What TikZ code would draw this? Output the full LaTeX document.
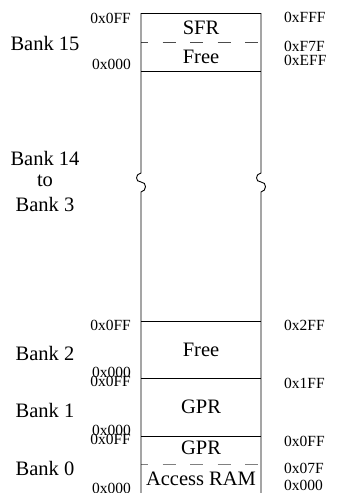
\documentclass[tikz,border=0pt]{standalone}
\usepackage{fontspec}
\setmainfont{Liberation Serif}
\begin{document}
\begin{tikzpicture}[x=1pt,y=-1pt,
  big/.style={font=\fontsize{20.5}{20.5}\selectfont, inner sep=0pt},
  hexl/.style={font=\fontsize{15.5}{15.5}\selectfont, inner sep=0pt, anchor=east},
  hexr/.style={font=\fontsize{15.5}{15.5}\selectfont, inner sep=0pt, anchor=west},
  rule/.style={line width=0.9pt},
  dashline/.style={line width=0.9pt, dash pattern=on 13pt off 14.5pt, dash phase=6pt}]
\useasboundingbox (0,0) rectangle (338,493);
% corners
\coordinate (tl) at (141,13);
\coordinate (tr) at (261,13);
\coordinate (bl) at (141,493);
\coordinate (br) at (261,493);
\coordinate (a1) at (141,71);  \coordinate (b1) at (261,71);
\coordinate (a2) at (141,321); \coordinate (b2) at (261,321);
\coordinate (a3) at (141,378); \coordinate (b3) at (261,378);
\coordinate (a4) at (141,436); \coordinate (b4) at (261,436);
\coordinate (d1) at (141,42);  \coordinate (e1) at (261,42);
\coordinate (d2) at (141,464); \coordinate (e2) at (261,464);
% box
\draw[rule] (tl) -- (tr);
\draw[rule] (a1) -- (b1);
\draw[rule] (a2) -- (b2);
\draw[rule] (a3) -- (b3);
\draw[rule] (a4) -- (b4);
\draw[dashline, black!70] (d1) -- (e1);
\draw[dashline, black!50] (d2) -- (e2);
% verticals with squiggles
\draw[rule] (tl) -- (141,173) .. controls (135,174) and (135,182) .. (141,182)
  .. controls (147,182) and (147,191) .. (141,192) -- (bl);
\draw[rule] (tr) -- (261,173) .. controls (255,174) and (255,182) .. (261,182)
  .. controls (267,182) and (267,191) .. (261,192) -- (br);
% inner labels
\node[big] (sfr) at (201,28) {SFR};
\node[big] (free15) at (201,57) {Free};
\node[big] (free2) at (201,350) {Free};
\node[big] (gpr1) at (201,407) {GPR};
\node[big] (gpr0) at (201,448) {GPR};
\node[big] (acc) at (201,479) {Access RAM};
% bank labels
\node[big] (b15) at (45,43) {Bank 15};
\node[big] (b14) at (45,158) {Bank 14};
\node[big] (to) at (45,181) {to};
\node[big] (b3) at (45,204) {Bank 3};
\node[big] (bk2) at (45,353) {Bank 2};
\node[big] (bk1) at (45,410) {Bank 1};
\node[big] (bk0) at (45,468) {Bank 0};
% left hex
\node[hexl] (l1) at (131,18) {0x0FF};
\node[hexl] (l2) at (131,64) {0x000};
\node[hexl] (l3) at (131,325) {0x0FF};
\node[hexl] (l4) at (131,372) {0x000};
\node[hexl] (l5) at (131,381) {0x0FF};
\node[hexl] (l6) at (131,430) {0x000};
\node[hexl] (l7) at (131,439) {0x0FF};
\node[hexl] (l8) at (131,488) {0x000};
% right hex
\node[hexr] (r1) at (284,17) {0xFFF};
\node[hexr] (r2) at (284,46) {0xF7F};
\node[hexr] (r3) at (284,60) {0xEFF};
\node[hexr] (r4) at (284,325) {0x2FF};
\node[hexr] (r5) at (284,383) {0x1FF};
\node[hexr] (r6) at (284,441) {0x0FF};
\node[hexr] (r7) at (284,468) {0x07F};
\node[hexr] (r8) at (284,485) {0x000};
\end{tikzpicture}
\end{document}
